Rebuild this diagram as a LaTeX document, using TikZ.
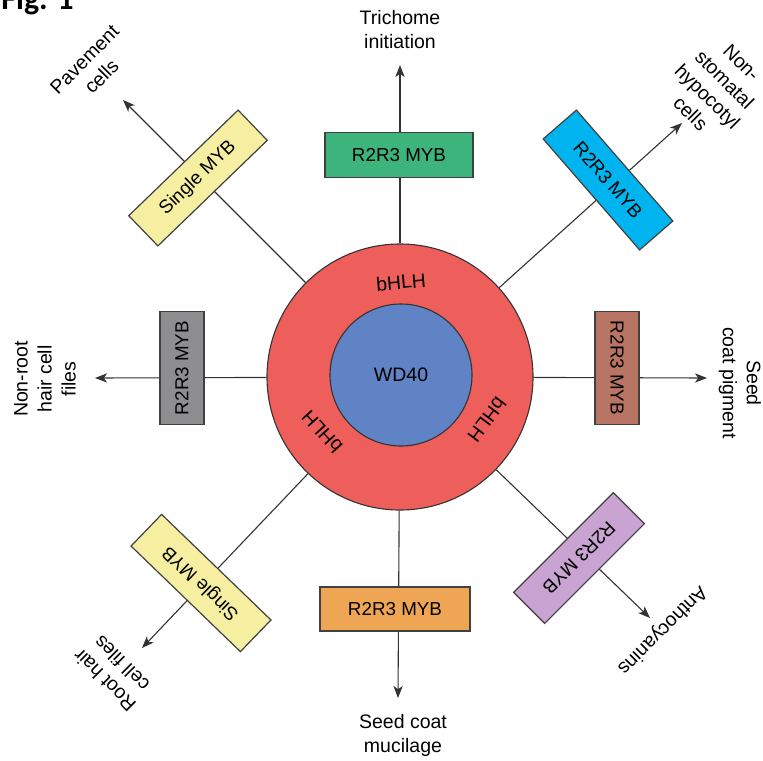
\documentclass[tikz,border=0pt]{standalone}
\usepackage{fontspec}
\setmainfont{Liberation Sans}
\newfontfamily\figfont{Carlito}
\usetikzlibrary{arrows.meta}

\definecolor{ringred}{HTML}{EE5F5B}
\definecolor{coreblue}{HTML}{5F83C4}
\definecolor{mybgreen}{HTML}{3CB47B}
\definecolor{mybcyan}{HTML}{00B5EF}
\definecolor{mybyellow}{HTML}{F6EFA2}
\definecolor{mybgrey}{HTML}{8E8E90}
\definecolor{mybbrown}{HTML}{B97563}
\definecolor{mybpurple}{HTML}{C9A3D2}
\definecolor{myborange}{HTML}{EFA654}
\definecolor{linegrey}{HTML}{333333}

\begin{document}
\begin{tikzpicture}[x=0.5pt, y=-0.5pt,
		font=\fontsize{9.75}{12}\selectfont,
		>={Stealth[length=6pt, width=4.6pt, inset=1.6pt]},
		spoke/.style={draw=linegrey, line width=0.55pt},
		disc/.style={circle, draw=black!80, line width=0.55pt, inner sep=0pt},
		factor/.style={draw=black!75, line width=0.6pt, inner sep=0pt, minimum height=22pt, font=\fontsize{9.4}{12}\selectfont},
		target/.style={align=center, inner sep=0pt}]
		\useasboundingbox (0, 0) rectangle (763, 760);

		\node[disc, fill=ringred, minimum size=133pt] (0) at (400, 377) {};
		\node[disc, fill=coreblue, minimum size=71pt] (1) at (401, 375) {WD40};

		\node (2) at (401, 282) [rotate=5] {bHLH};
		\node (3) at (322, 432) [rotate=132] {bHLH};
		\node (4) at (487, 420) [rotate=-127] {bHLH};

		\coordinate (t1) at (400, 65);
		\coordinate (t2) at (682, 123);
		\coordinate (t3) at (707, 378);
		\coordinate (t4) at (650, 618);
		\coordinate (t5) at (398, 698);
		\coordinate (t6) at (142, 648);
		\coordinate (t7) at (95, 378);
		\coordinate (t8) at (123, 100);

		\draw[->, spoke] (0) -- (t1);
		\draw[->, spoke] (0) -- (t2);
		\draw[->, spoke] (0) -- (t3);
		\draw[->, spoke] (0) -- (t4);
		\draw[->, spoke] (0) -- (t5);
		\draw[->, spoke] (0) -- (t6);
		\draw[->, spoke] (0) -- (t7);
		\draw[->, spoke] (0) -- (t8);

		\node[factor, fill=mybgreen, minimum width=74pt, minimum height=22.5pt] (5) at (399, 155) {R2R3 MYB};
		\node[factor, fill=mybcyan, minimum width=73.5pt, rotate=-49] (6) at (608, 180) {R2R3 MYB};
		\node[factor, fill=mybbrown, minimum width=56.5pt, rotate=-90] (7) at (617, 368) {R2R3 MYB};
		\node[factor, fill=mybpurple, minimum width=70.5pt, rotate=-135] (8) at (579, 558) {R2R3 MYB};
		\node[factor, fill=myborange, minimum width=75pt] (9) at (395, 609) {R2R3 MYB};
		\node[factor, fill=mybyellow, minimum width=76pt, rotate=136] (10) at (201, 583) {Single MYB};
		\node[factor, fill=mybgrey, minimum width=56.5pt, rotate=90] (11) at (182, 368) {R2R3 MYB};
		\node[factor, fill=mybyellow, minimum width=76pt, minimum height=21pt, rotate=44] (12) at (198, 178) {Single MYB};

		\node[target] (13) at (400, 30) {Trichome\\initiation};
		\node[target, rotate=-45] (14) at (716, 88) {Non-\\stomatal\\hypocotyl\\cells};
		\node[target, rotate=-90] (15) at (740, 383) {Seed\\coat pigment};
		\node[target, rotate=-135] (16) at (662, 630) {Anthocyanins};
		\node[target] (17) at (403, 735) {Seed coat\\mucilage};
		\node[target, rotate=135] (18) at (113, 672) {Root hair\\cell files};
		\node[target, rotate=90] (19) at (45, 379) {Non-root\\hair cell\\files};
		\node[target, rotate=45] (20) at (93, 68) {Pavement\\cells};

		\node[anchor=base east, inner sep=0pt, font=\figfont\bfseries\fontsize{16}{16}\selectfont] (21) at (74, 10) {Fig. 1};
\end{tikzpicture}
\end{document}
